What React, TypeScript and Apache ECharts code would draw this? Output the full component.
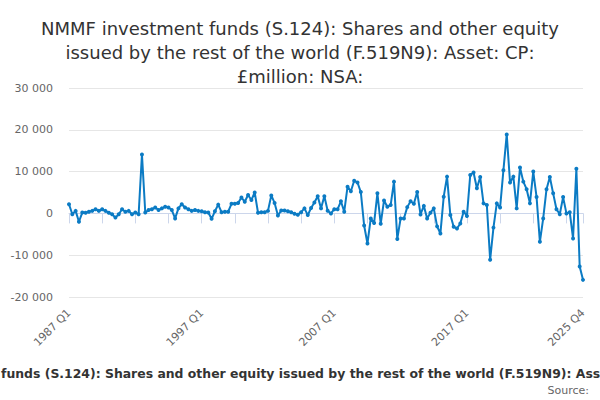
import React, { useEffect, useRef } from "react";
import * as echarts from "echarts";

const START_YEAR = 1987;
const END_YEAR = 2025;
const QUARTERS = ["Q1", "Q2", "Q3", "Q4"];
const categories: string[] = [];
for (let y = START_YEAR; y <= END_YEAR; y++) {
  for (const q of QUARTERS) categories.push(`${y} ${q}`);
}

// £million, one value per quarter, 1987 Q1 .. 2025 Q4
const values: number[] = [
  2200, -200, 600, -2000, // 1987
  200, 150, 400, 600, // 1988
  1000, 600, 1000, 600, // 1989
  150, -200, -1000, -200, // 1990
  1000, 400, 600, -200, // 1991
  200, -200, 14100, 200, // 1992
  800, 1000, 1400, 800, // 1993
  1200, 1600, 1400, 800, // 1994
  -1200, 1200, 2200, 1400, // 1995
  1000, 600, 800, 600, // 1996
  500, 300, 200, -1300, // 1997
  500, 2100, 300, 400, // 1998
  400, 2300, 2300, 2500, // 1999
  3800, 2800, 4400, 3200, // 2000
  5000, 150, 300, 300, // 2001
  600, 4300, 2500, -500, // 2002
  700, 700, 500, 300, // 2003
  -100, -300, 300, 1200, // 2004
  -400, 1300, 2600, 4100, // 2005
  1200, 4100, 650, 0, // 2006
  1000, 1000, 2900, 400, // 2007
  6400, 5300, 7800, 7400, // 2008
  5100, -2900, -7200, -1200, // 2009
  -2300, 4800, -2500, 3100, // 2010
  1600, 2000, 7600, -6100, // 2011
  -1200, -1200, 1500, 2900, // 2012
  2300, 5100, -250, 1800, // 2013
  -1200, 160, 1200, -3100, // 2014
  -4800, 4000, 8800, -400, // 2015
  -3200, -3600, -2400, 400, // 2016
  -600, 9200, 9800, 6000, // 2017
  8700, 2400, 2000, -11100, // 2018
  -3400, 2400, 1400, 10300, // 2019
  18900, 7400, 8800, 1200, // 2020
  11000, 7600, 5800, 2400, // 2021
  10000, 3900, -6800, -1200, // 2022
  5800, 8700, 4800, 1000, // 2023
  -200, 3900, 0, 300, // 2024
  -6000, 10700, -12700, -15900, // 2025
];

const Y_MIN = -20000;
const Y_MAX = 30000;
const Y_STEP = 10000;
const TICK_EVERY = 10;
const LABEL_EVERY = 40;

const TITLE_LINES = [
  "NMMF investment funds (S.124): Shares and other equity",
  "issued by the rest of the world (F.519N9): Asset: CP:",
  "£million: NSA:",
];
const FULL_TITLE =
  "NMMF investment funds (S.124): Shares and other equity issued by the rest of the world (F.519N9): Asset: CP: £million: NSA:";
const HIDDEN_PREFIX = "NMMF investment ";
const VISIBLE_PART =
  "funds (S.124): Shares and other equity issued by the rest of the world (F.519N9): Ass";
const SOURCE_TEXT = "Source:";

const FONT = '"DejaVu Sans", sans-serif';

function fmt(v: number): string {
  return String(v).replace(/\B(?=(\d{3})+(?!\d))/g, " ");
}

export default function App() {
  const ref = useRef<HTMLDivElement>(null);
  useEffect(() => {
    if (!ref.current) return;
    const chart = echarts.init(ref.current, undefined, { renderer: "svg" });
    const last = categories.length - 1;

    let boldSize = 12.4;
    let prefixW = 130;
    try {
      const ctx = document.createElement("canvas").getContext("2d");
      if (ctx) {
        ctx.font = 'bold 11px "DejaVu Sans"';
        const w = ctx.measureText(VISIBLE_PART).width;
        if (w > 0) boldSize = (11 * 600) / w;
        ctx.font = `bold ${boldSize}px "DejaVu Sans"`;
        prefixW = ctx.measureText(HIDDEN_PREFIX).width;
      }
    } catch (e) {}

    chart.setOption({
      animation: false,
      backgroundColor: "#ffffff",
      title: {
        text: TITLE_LINES.join("\n"),
        left: "center",
        top: 11,
        textStyle: {
          fontFamily: FONT,
          fontSize: 18,
          fontWeight: "normal",
          color: "#333333",
          lineHeight: 24,
        },
      },
      grid: { left: 69, right: 17, top: 88, bottom: 103, containLabel: false },
      xAxis: {
        type: "category",
        data: categories,
        boundaryGap: false,
        axisLine: { lineStyle: { color: "#ccd6eb", width: 1 } },
        axisTick: {
          show: true,
          length: 10,
          lineStyle: { color: "#ccd6eb" },
          interval: (i: number) => i % TICK_EVERY === 0 || i === last,
        },
        axisLabel: {
          rotate: 45,
          margin: 14,
          fontFamily: FONT,
          fontSize: 11,
          color: "#666666",
          interval: (i: number) => i % LABEL_EVERY === 0 || i === last,
        },
        splitLine: { show: false },
      },
      yAxis: {
        type: "value",
        min: Y_MIN,
        max: Y_MAX,
        interval: Y_STEP,
        axisLine: { show: false },
        axisTick: { show: false },
        axisLabel: {
          margin: 16,
          fontFamily: FONT,
          fontSize: 11,
          color: "#666666",
          formatter: (v: number) => fmt(v),
        },
        splitLine: { lineStyle: { color: "#e6e6e6", width: 1 } },
      },
      series: [
        {
          type: "line",
          data: values,
          showSymbol: true,
          showAllSymbol: true,
          symbol: "circle",
          symbolSize: 4,
          lineStyle: { color: "#0b7bc4", width: 2 },
          itemStyle: { color: "#0b7bc4" },
        },
      ],
      graphic: [
        {
          type: "text",
          x: 1 - prefixW,
          y: 373,
          style: {
            text: FULL_TITLE,
            font: `bold ${boldSize}px "DejaVu Sans"`,
            fill: "#333333",
            textAlign: "left",
            textVerticalAlign: "middle",
          },
        },
        {
          type: "text",
          x: 589,
          y: 390,
          style: {
            text: SOURCE_TEXT,
            font: '11px "DejaVu Sans"',
            fill: "#666666",
            textAlign: "right",
            textVerticalAlign: "middle",
          },
        },
      ],
    });
    return () => chart.dispose();
  }, []);
  return (
    <div
      ref={ref}
      style={{ position: "fixed", left: 0, top: 0, width: 600, height: 400 }}
    />
  );
}
